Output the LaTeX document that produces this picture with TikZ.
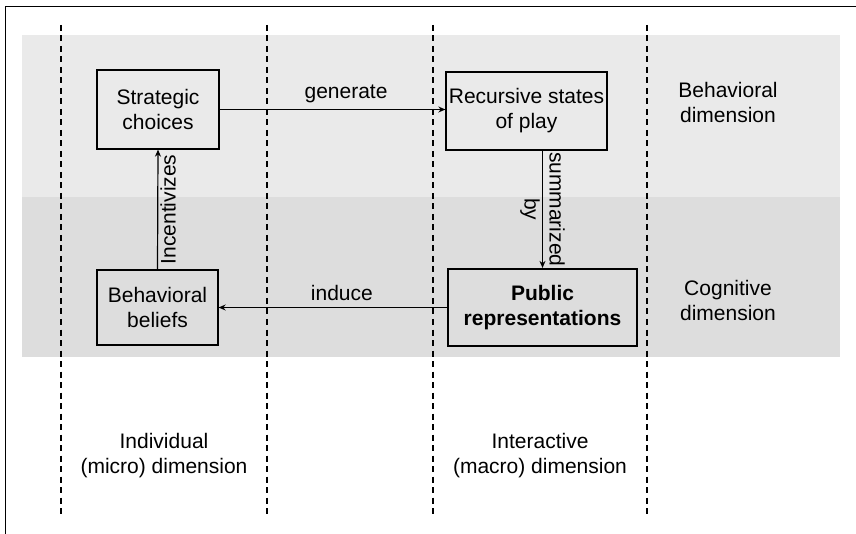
\documentclass[tikz,border=0pt]{standalone}
\usepackage{fontspec}
\setmainfont{Liberation Sans}
\usetikzlibrary{arrows.meta}
\definecolor{bandlight}{HTML}{EAEAEA}
\definecolor{banddark}{HTML}{DDDDDD}
\tikzset{
  txt/.style={font=\fontsize{21}{25}\selectfont, align=center, inner sep=2pt},
  dimbox/.style={txt, draw, line width=1.3pt},
  flow/.style={line width=1.2pt, -{Stealth[length=7pt,width=6pt]}},
  sep/.style={line width=1.4pt, dash pattern=on 6pt off 4.5pt}
}
\begin{document}
\begin{tikzpicture}[x=1pt, y=-1pt]
\useasboundingbox (0,0) rectangle (856,534);
% bands
\fill[bandlight] (22,35) rectangle (840,197);
\fill[banddark] (22,197) rectangle (840,357);
% frame
\draw[line width=1pt] (5,534) -- (5,7) -- (856,7);
% separators
\foreach \xx in {61,267,433,647}
  \draw[sep] (\xx,25) -- (\xx,517);
% boxes
\node[dimbox, minimum width=122pt, minimum height=79pt] (strat) at (158,109.5) {Strategic\\choices};
\node[dimbox, minimum width=161pt, minimum height=78pt] (recur) at (526.5,111) {Recursive states\\of play};
\node[dimbox, line width=2.2pt, minimum width=189pt, minimum height=77pt, font=\fontsize{21}{25}\selectfont\bfseries] (pubrep) at (542.5,307.5) {Public\\representations};
\node[dimbox, minimum width=121pt, minimum height=75pt] (behbel) at (157.5,307.5) {Behavioral\\beliefs};
% dimension labels
\node[txt] (behdim) at (728,102) {Behavioral\\dimension};
\node[txt] (cogdim) at (728,300) {Cognitive\\dimension};
\node[txt] (inddim) at (164,456) {Individual\\(micro) dimension};
\node[txt] (intdim) at (540,456) {Interactive\\(macro) dimension};
% arrows
\draw[flow] (strat.east) -- node[txt, pos=0.56, above=4pt] {generate} (strat.east -| recur.west);
\draw[flow] (pubrep.north |- recur.south) -- node[txt, midway, rotate=-90] {summarized\\by} (pubrep.north);
\draw[flow] (pubrep.west) -- node[txt, pos=0.46, above=4pt] {induce} (pubrep.west -| behbel.east);
\draw[flow] (behbel.north) -- node[txt, midway, rotate=90, anchor=north] {Incentivizes} (strat.south);
\end{tikzpicture}
\end{document}
